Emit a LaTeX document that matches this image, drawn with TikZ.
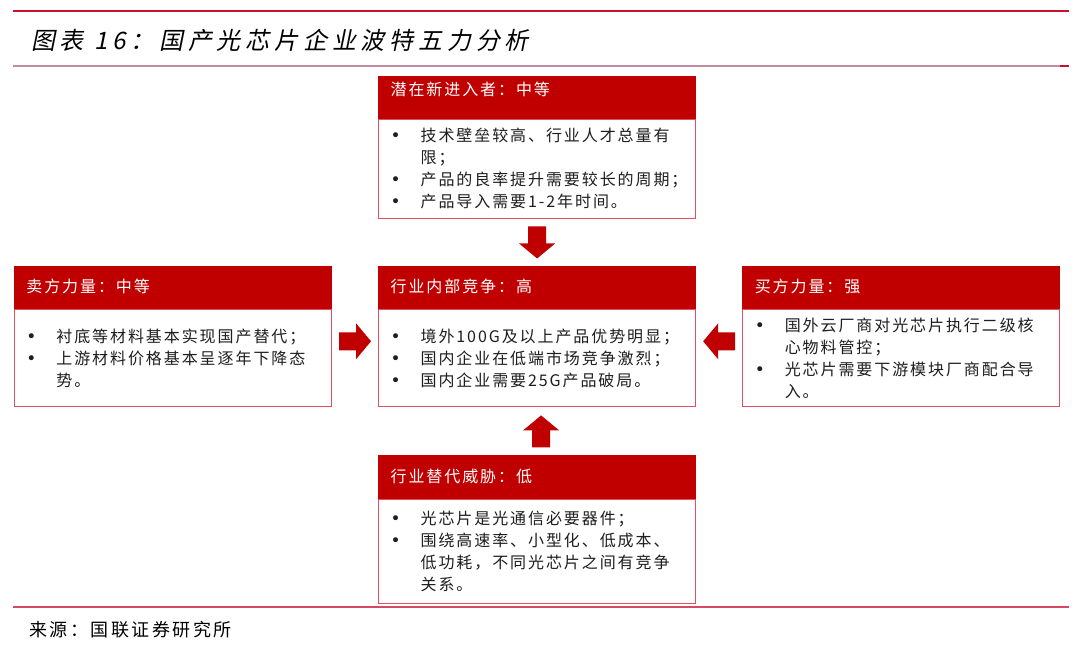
\documentclass[tikz,border=0pt]{standalone}
\usepackage{fontspec}
\setmainfont{Noto Sans CJK SC}
\newfontfamily\boxfont{Noto Sans CJK SC}[LetterSpace=12]
\newfontfamily\titlefont{Noto Sans CJK SC}[FakeSlant=0.2,LetterSpace=20]
\newfontfamily\notefont{Noto Sans CJK SC}[LetterSpace=14]
\newfontfamily\dotfont{DejaVu Sans}
\usetikzlibrary{positioning,calc}

\definecolor{hdred}{RGB}{192,0,0}
\definecolor{edgered}{RGB}{226,80,96}
\definecolor{ruletop}{RGB}{200,16,46}
\definecolor{rulepink}{RGB}{196,140,164}
\definecolor{rulebottom}{RGB}{214,72,100}
\definecolor{bodytext}{RGB}{30,30,30}

% one bullet line, and its continuation
\newcommand{\itm}[1]{\makebox[30pt][l]{{\dotfont\fontsize{17}{17}\selectfont •}}#1}
\newcommand{\cont}[1]{\hspace*{30pt}#1}

\tikzset{
  blockarrow/.pic={\fill[hdred] (-16,-9) -- (1,-9) -- (1,-18) -- (16,0)
    -- (1,18) -- (1,9) -- (-16,9) -- cycle;}
}

\begin{document}
\begin{tikzpicture}[x=1pt,y=-1pt,
  head/.style = {fill=hdred, draw=hdred, line width=1.2pt, text=white,
    text width=293pt, inner xsep=12pt, inner ysep=0pt, minimum height=42pt,
    align=left, font=\boxfont\fontsize{16}{22}\selectfont,
    text height=14pt, text depth=4pt},
  body/.style = {draw=edgered, line width=1.2pt, fill=white, text=bodytext,
    text width=293pt, inner xsep=12pt, minimum height=97pt,
    align=left, font=\boxfont\fontsize{16}{22}\selectfont}]
  \useasboundingbox (0,0) rectangle (1080,647);

  % rules and captions
  \draw[ruletop, line width=2pt] (13,11) -- (1069,11);
  \draw[rulepink, line width=2pt] (13,66) -- (1060,66);
  \draw[ruletop, line width=2pt] (1060,66) -- (1069,66);
  \draw[rulebottom, line width=1.2pt] (13,607) -- (1069,607);
  \node[anchor=west, inner sep=0pt, font=\titlefont\fontsize{24}{24}\selectfont]
    (title) at (31,40) {图表 16：国产光芯片企业波特五力分析};
  \node[anchor=west, inner sep=0pt, font=\notefont\fontsize{18}{18}\selectfont]
    (source) at (29,630) {来源：国联证券研究所};

  % centre
  \node[head, anchor=north west] (rivalry-head) at (378,266) {行业内部竞争：高};
  \node[body, below=0pt of rivalry-head] (rivalry-body)
    {\itm{境外100G及以上产品优势明显；}\\
     \itm{国内企业在低端市场竞争激烈；}\\
     \itm{国内企业需要25G产品破局。}};

  % top
  \node[body, minimum height=99pt, above=47pt of rivalry-head] (entrant-body)
    {\itm{技术壁垒较高、行业人才总量有}\\
     \cont{限；}\\
     \itm{产品的良率提升需要较长的周期；}\\
     \itm{产品导入需要1-2年时间。}};
  \node[head, text depth=18pt, above=0pt of entrant-body] (entrant-head) {潜在新进入者：中等};

  % left
  \node[head, left=46pt of rivalry-head] (supplier-head) {卖方力量：中等};
  \node[body, below=0pt of supplier-head] (supplier-body)
    {\itm{衬底等材料基本实现国产替代；}\\
     \itm{上游材料价格基本呈逐年下降态}\\
     \cont{势。}};

  % right
  \node[head, right=46pt of rivalry-head] (buyer-head) {买方力量：强};
  \node[body, below=0pt of buyer-head] (buyer-body)
    {\itm{国外云厂商对光芯片执行二级核}\\
     \cont{心物料管控；}\\
     \itm{光芯片需要下游模块厂商配合导}\\
     \cont{入。}};

  % bottom
  \node[head, below=48pt of rivalry-body] (substitute-head) {行业替代威胁：低};
  \node[body, minimum height=104pt, below=0pt of substitute-head] (substitute-body)
    {\itm{光芯片是光通信必要器件；}\\
     \itm{围绕高速率、小型化、低成本、}\\
     \cont{低功耗，不同光芯片之间有竞争}\\
     \cont{关系。}};

  % block arrows into the centre
  \pic[rotate=-90] at ($(entrant-body.south)!0.5!(rivalry-head.north)$) {blockarrow};
  \pic[rotate=90] at ([xshift=4pt]$(rivalry-body.south)!0.5!(substitute-head.north)$) {blockarrow};
  \pic at ([yshift=17pt]$(supplier-body.east)!0.5!(rivalry-body.west)$) {blockarrow};
  \pic[rotate=180] at ([yshift=17pt]$(buyer-body.west)!0.5!(rivalry-body.east)$) {blockarrow};
\end{tikzpicture}
\end{document}
